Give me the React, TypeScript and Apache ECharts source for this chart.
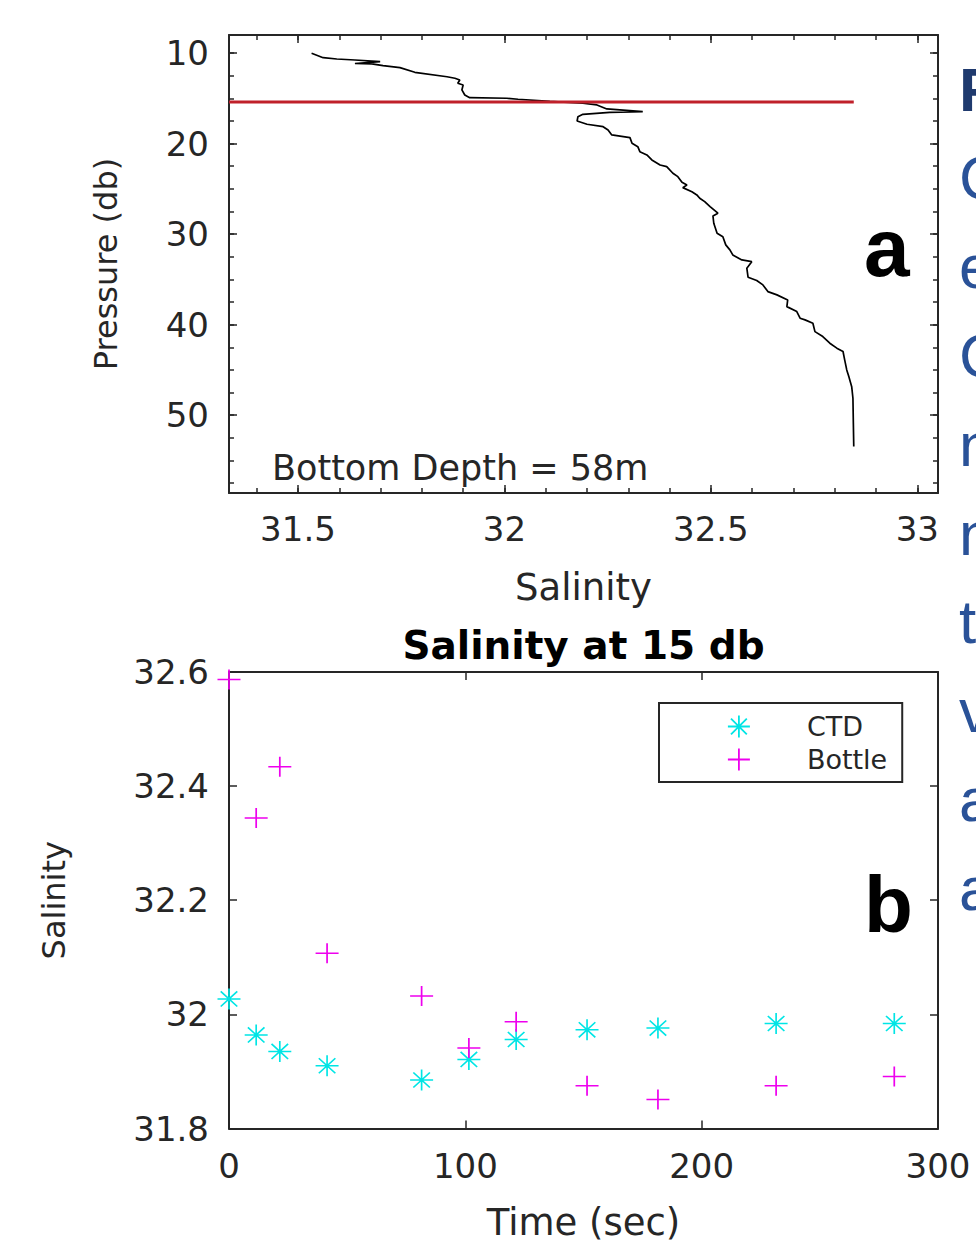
import React, { useEffect, useRef } from 'react';
import * as echarts from 'echarts';

// ---------- Panel a: CTD salinity profile ----------
const profileSalinity = [
  31.533, 31.561, 31.594, 31.638, 31.699, 31.638, 31.679, 31.706, 31.747, 31.783,
  31.861, 31.880, 31.892, 31.887, 31.900, 31.897, 31.904, 31.916, 32.006, 32.033,
  32.110, 32.190, 32.224, 32.248, 32.335, 32.255, 32.190, 32.178, 32.176, 32.200,
  32.239, 32.251, 32.260, 32.304, 32.309, 32.323, 32.328, 32.345, 32.357, 32.377,
  32.393, 32.408, 32.420, 32.430, 32.442, 32.432, 32.454, 32.466, 32.473, 32.485,
  32.498, 32.517, 32.505, 32.507, 32.515, 32.529, 32.536, 32.546, 32.553, 32.575,
  32.599, 32.587, 32.590, 32.611, 32.626, 32.638, 32.660, 32.686, 32.684, 32.708,
  32.716, 32.728, 32.747, 32.752, 32.771, 32.788, 32.805, 32.820, 32.824, 32.829,
  32.834, 32.841, 32.844, 32.845, 32.846,
];
const profilePressure = [
  10.02, 10.51, 10.65, 10.76, 10.95, 11.15, 11.20, 11.39, 11.61, 12.12,
  12.61, 12.78, 12.97, 13.33, 13.52, 14.07, 14.63, 14.92, 14.99, 15.10,
  15.34, 15.54, 15.73, 16.17, 16.47, 16.54, 16.76, 17.02, 17.50, 17.86,
  18.13, 18.49, 19.04, 19.34, 19.96, 20.34, 20.89, 21.25, 21.80, 22.36,
  22.54, 23.27, 23.65, 24.27, 24.57, 24.86, 25.31, 25.67, 26.03, 26.41,
  26.96, 27.69, 27.99, 28.80, 29.90, 30.28, 31.19, 31.74, 32.30, 32.85,
  33.04, 33.76, 34.76, 35.13, 35.61, 36.35, 36.71, 37.27, 38.01, 38.56,
  39.29, 39.47, 39.84, 40.77, 41.32, 42.05, 42.60, 42.97, 43.89, 45.00,
  45.74, 46.85, 48.13, 50.88, 53.47,
];
const markerPressure = 15.4;
const markerSalinityEnds = [31.333, 32.846];

const salinityMajorTicks = [31.5, 32, 32.5, 33];
const salinityMinorTicks = [
  31.4, 31.5, 31.6, 31.7, 31.8, 31.9, 32.0, 32.1, 32.2, 32.3, 32.4,
  32.5, 32.6, 32.7, 32.8, 32.9, 33.0,
];
const pressureMajorTicks = [10, 20, 30, 40, 50];
const pressureMinorTicks = [
  10, 12.5, 15, 17.5, 20, 22.5, 25, 27.5, 30, 32.5, 35, 37.5, 40, 42.5, 45,
  47.5, 50, 52.5, 55, 57.5,
];

// ---------- Panel b: salinity at 15 db ----------
const sampleTimes = [0, 11.5, 21.5, 41.5, 81.5, 101.5, 121.5, 151.5, 181.5, 231.5, 281.5];
const ctdSalinity = [32.027, 31.964, 31.935, 31.910, 31.885, 31.921, 31.956, 31.973, 31.976, 31.984, 31.984];
const bottleSalinity = [32.587, 32.344, 32.434, 32.107, 32.032, 31.941, 31.987, 31.875, 31.851, 31.875, 31.891];
const timeTicks = [0, 100, 200, 300];
const salinityTicksB = [31.8, 32, 32.2, 32.4, 32.6];

// ---------- texts ----------
const slideLetters = ['F', 'C', 'e', 'C', 'n', 'n', 't', 'v', 'a', 'a'];

const AX = '#262626';
const FONT = '"DejaVu Sans", sans-serif';
const CYAN = '#00e5e5';
const MAGENTA = '#ee00ee';
const RED = '#c0202a';
const BLUE = '#2a5298';
const ASTERISK = 'path://M0,-1L0,1M-1,0L1,0M-0.72,-0.72L0.72,0.72M-0.72,0.72L0.72,-0.72';
const PLUS = 'path://M0,-1L0,1M-1,0L1,0';

const tickAxis = (extra: any, values: number[], len: number, showLine: boolean) => ({
  type: 'value',
  axisLine: { show: showLine, onZero: false, lineStyle: { color: AX, width: 2 } },
  axisTick: { show: true, inside: true, length: len, customValues: values, lineStyle: { color: AX, width: 1.5 } },
  axisLabel: { show: false },
  splitLine: { show: false },
  ...extra,
});

export default function App() {
  const ref = useRef<HTMLDivElement>(null);
  useEffect(() => {
    if (!ref.current) return;
    const chart = echarts.init(ref.current, null, { renderer: 'svg' });

    const topRange = { min: 31.333, max: 33.05 };
    const pRange = { min: 8, max: 58.6, inverse: true };
    const tRange = { min: 0, max: 300 };
    const sRange = { min: 31.8, max: 32.6 };
    const labelStyle = { color: AX, fontSize: 34, fontFamily: FONT };

    const option: any = {
      animation: false,
      backgroundColor: '#ffffff',
      grid: [
        { left: 229, top: 35, width: 709, height: 458, containLabel: false },
        { left: 229, top: 672, width: 709, height: 456.5, containLabel: false },
      ],
      xAxis: [
        {
          ...tickAxis({ gridIndex: 0, position: 'bottom', ...topRange }, salinityMajorTicks, 8, true),
          axisLabel: { show: true, customValues: salinityMajorTicks, margin: 19, ...labelStyle },
          name: 'Salinity', nameLocation: 'middle', nameGap: 76,
          nameTextStyle: { color: AX, fontSize: 37, fontFamily: FONT },
        },
        tickAxis({ gridIndex: 0, position: 'bottom', ...topRange }, salinityMinorTicks, 5, false),
        tickAxis({ gridIndex: 0, position: 'top', ...topRange }, salinityMajorTicks, 8, true),
        tickAxis({ gridIndex: 0, position: 'top', ...topRange }, salinityMinorTicks, 5, false),
        {
          ...tickAxis({ gridIndex: 1, position: 'bottom', ...tRange }, timeTicks, 8, true),
          interval: 100,
          axisLabel: { show: true, margin: 20, ...labelStyle },
          name: 'Time (sec)', nameLocation: 'middle', nameGap: 75,
          nameTextStyle: { color: AX, fontSize: 37, fontFamily: FONT },
        },
        tickAxis({ gridIndex: 1, position: 'top', ...tRange }, timeTicks, 8, true),
      ],
      yAxis: [
        {
          ...tickAxis({ gridIndex: 0, position: 'left', ...pRange }, pressureMajorTicks, 8, true),
          axisLabel: { show: true, customValues: pressureMajorTicks, margin: 20, ...labelStyle },
          name: 'Pressure (db)', nameLocation: 'middle', nameGap: 107,
          nameTextStyle: { color: AX, fontSize: 32, fontFamily: FONT },
        },
        tickAxis({ gridIndex: 0, position: 'left', ...pRange }, pressureMinorTicks, 5, false),
        tickAxis({ gridIndex: 0, position: 'right', ...pRange }, pressureMajorTicks, 8, true),
        tickAxis({ gridIndex: 0, position: 'right', ...pRange }, pressureMinorTicks, 5, false),
        {
          ...tickAxis({ gridIndex: 1, position: 'left', ...sRange }, salinityTicksB, 8, true),
          interval: 0.2,
          axisLabel: { show: true, margin: 20, ...labelStyle },
          name: 'Salinity', nameLocation: 'middle', nameGap: 159,
          nameTextStyle: { color: AX, fontSize: 32, fontFamily: FONT },
        },
        tickAxis({ gridIndex: 1, position: 'right', ...sRange }, salinityTicksB, 8, true),
      ],
      legend: {
        show: true,
        orient: 'vertical',
        left: 659,
        top: 703,
        padding: [10, 15, 9, 68],
        itemWidth: 126,
        itemHeight: 22,
        itemGap: 6,
        borderColor: AX,
        borderWidth: 2,
        backgroundColor: '#ffffff',
        selectedMode: false,
        textStyle: { color: AX, fontSize: 27, fontFamily: FONT, lineHeight: 22 },
        data: [
          { name: 'CTD', icon: ASTERISK, itemStyle: { color: CYAN, borderColor: CYAN, borderWidth: 1.8 } },
          { name: 'Bottle', icon: PLUS, itemStyle: { color: MAGENTA, borderColor: MAGENTA, borderWidth: 1.8 } },
        ],
      },
      series: [
        {
          type: 'line',
          name: 'Profile',
          xAxisIndex: 0,
          yAxisIndex: 0,
          data: profileSalinity.map((s, i) => [s, profilePressure[i]]),
          symbol: 'none',
          showSymbol: false,
          lineStyle: { color: '#000000', width: 1.7 },
          z: 2,
        },
        {
          type: 'line',
          name: '15 db',
          xAxisIndex: 0,
          yAxisIndex: 0,
          data: markerSalinityEnds.map((s) => [s, markerPressure]),
          symbol: 'none',
          showSymbol: false,
          lineStyle: { color: RED, width: 3 },
          z: 3,
        },
        {
          type: 'scatter',
          name: 'CTD',
          xAxisIndex: 4,
          yAxisIndex: 4,
          data: sampleTimes.map((t, i) => [t, ctdSalinity[i]]),
          symbol: ASTERISK,
          symbolSize: [23, 21],
          itemStyle: { color: CYAN, borderColor: CYAN, borderWidth: 1.6, opacity: 1 },
          z: 3,
        },
        {
          type: 'scatter',
          name: 'Bottle',
          xAxisIndex: 4,
          yAxisIndex: 4,
          data: sampleTimes.map((t, i) => [t, bottleSalinity[i]]),
          symbol: PLUS,
          symbolSize: [23, 20],
          itemStyle: { color: MAGENTA, borderColor: MAGENTA, borderWidth: 1.6, opacity: 1 },
          z: 4,
        },
      ],
      graphic: [
        {
          type: 'text', x: 272, y: 468, z: 10,
          style: { text: 'Bottom Depth = 58m', fill: AX, font: `35px ${FONT}`, align: 'left', verticalAlign: 'middle' },
        },
        {
          type: 'text', x: 583.5, y: 645, z: 10,
          style: { text: 'Salinity at 15 db', fill: '#000000', font: `bold 39px ${FONT}`, align: 'center', verticalAlign: 'middle' },
        },
        {
          type: 'text', x: 864, y: 247, z: 10,
          style: { text: 'a', fill: '#000000', font: 'bold 82px "Liberation Sans", sans-serif', align: 'left', verticalAlign: 'middle' },
        },
        {
          type: 'text', x: 864, y: 904, z: 10,
          style: { text: 'b', fill: '#000000', font: 'bold 80px "Liberation Sans", sans-serif', align: 'left', verticalAlign: 'middle' },
        },
        ...slideLetters.map((ch, i) => ({
          type: 'text', x: 959, y: 110 + 88.8 * i - 21, z: 10,
          style: {
            text: ch,
            fill: i === 0 ? '#1f3a6e' : BLUE,
            font: `${i === 0 ? 'bold ' : ''}62px "Liberation Sans", sans-serif`,
            align: 'left',
            verticalAlign: 'middle',
          },
        })),
      ],
    };
    chart.setOption(option);
    return () => chart.dispose();
  }, []);
  return (
    <div
      ref={ref}
      style={{ position: 'absolute', left: 0, top: 0, width: 976, height: 1245, background: '#fff' }}
    />
  );
}
